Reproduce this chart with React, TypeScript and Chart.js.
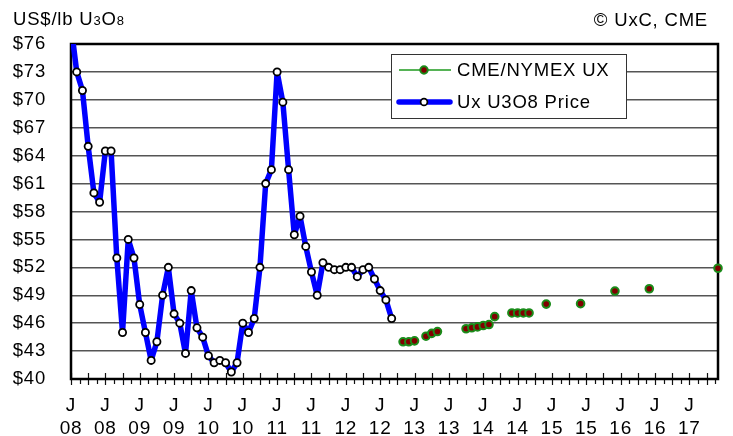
import React, { useEffect, useRef } from "react";
import { Chart, registerables } from "chart.js";

Chart.register(...registerables);

// Months counted from Jan 2008 (0 = Jan 08)
const uxMonths = [
  0, 1, 2, 3, 4, 5, 6, 7, 8, 9, 10, 11,
  12, 13, 14, 15, 16, 17, 18, 19, 20, 21, 22, 23,
  24, 25, 26, 27, 28, 29, 30, 31, 32, 33, 34, 35,
  36, 37, 38, 39, 40, 41, 42, 43, 44, 45, 46, 47,
  48, 49, 50, 51, 52, 53, 54, 55, 56,
];
const uxPrices = [
  78, 73, 71, 65, 60, 59, 64.5, 64.5, 53, 45, 55, 53,
  48, 45, 42, 44, 49, 52, 47, 46, 42.75, 49.5, 45.5, 44.5,
  42.5, 41.75, 42, 41.75, 40.75, 41.75, 46, 45, 46.5, 52, 61, 62.5,
  73, 69.75, 62.5, 55.5, 57.5, 54.25, 51.5, 49, 52.5, 52, 51.75, 51.75,
  52, 52, 51, 51.75, 52, 50.75, 49.5, 48.5, 46.5,
];

const cmeMonths = [58, 59, 60, 62, 63, 64, 69, 70, 71, 72, 73, 74, 77, 78, 79, 80, 83, 89, 95, 101, 113];
const cmePrices = [44, 44, 44.1, 44.6, 44.9, 45.1, 45.4, 45.5, 45.6, 45.75, 45.85, 46.7, 47.1, 47.1, 47.1, 47.1, 48.05, 48.1, 49.45, 49.7, 51.9];

const yearLabels = ["08", "08", "09", "09", "10", "10", "11", "11", "12", "12", "13", "13", "14", "14", "15", "15", "16", "16", "17"];
const monthLetter = "J";

const Y_MIN = 40;
const Y_MAX = 76;
const Y_STEP = 3;
const X_MAX = 113;

const FONT = '"Liberation Sans", Arial, sans-serif';
const SPACING = "0.8px";

const setSpacing = (chart: any) => {
  try { (chart.ctx as any).letterSpacing = SPACING; } catch (e) { /* ignore */ }
};

const decorPlugin = {
  id: "decor",
  beforeInit: setSpacing,
  beforeLayout: setSpacing,
  beforeDraw: setSpacing,
  beforeDatasetsDraw(chart: any) {
    const { ctx, chartArea: ca, scales } = chart;
    const xs = scales.x;
    ctx.save();
    ctx.strokeStyle = "#111";
    ctx.lineWidth = 1.2;
    for (let i = 0; i * 1.5 <= X_MAX + 1e-9; i++) {
      const m = i * 1.5;
      const px = Math.round(xs.getPixelForValue(m)) + 0.5;
      const major = i % 2 === 0;
      ctx.beginPath();
      ctx.moveTo(px, major ? ca.bottom - 6 : ca.bottom);
      ctx.lineTo(px, ca.bottom + (major ? 6 : 5));
      ctx.stroke();
    }
    ctx.lineWidth = 2.5;
    ctx.strokeStyle = "#000";
    ctx.strokeRect(ca.left, ca.top, ca.right - ca.left, ca.bottom - ca.top);
    ctx.restore();
  },
  afterDraw(chart: any) {
    const { ctx } = chart;
    ctx.save();
    try { ctx.letterSpacing = SPACING; } catch (e) { /* ignore */ }
    // Legend box
    const bx = 391, by = 54, bw = 235, bh = 64;
    ctx.fillStyle = "#fff";
    ctx.fillRect(bx, by, bw, bh);
    ctx.strokeStyle = "#333";
    ctx.lineWidth = 1;
    ctx.strokeRect(bx + 0.5, by + 0.5, bw, bh);
    // entry 1
    ctx.strokeStyle = "#1e9a1e";
    ctx.lineWidth = 1.3;
    ctx.beginPath();
    ctx.moveTo(399, 70);
    ctx.lineTo(451, 70);
    ctx.stroke();
    ctx.beginPath();
    ctx.arc(424, 70, 3.7, 0, Math.PI * 2);
    ctx.fillStyle = "#800000";
    ctx.fill();
    ctx.lineWidth = 2;
    ctx.strokeStyle = "#1a8c1a";
    ctx.stroke();
    // entry 2
    ctx.strokeStyle = "#0000ff";
    ctx.lineWidth = 5.5;
    ctx.lineCap = "round";
    ctx.beginPath();
    ctx.moveTo(399, 102);
    ctx.lineTo(450, 102);
    ctx.stroke();
    ctx.lineCap = "butt";
    ctx.beginPath();
    ctx.arc(424, 102, 3.4, 0, Math.PI * 2);
    ctx.fillStyle = "#fff";
    ctx.fill();
    ctx.lineWidth = 1.7;
    ctx.strokeStyle = "#000";
    ctx.stroke();
    ctx.fillStyle = "#000";
    ctx.font = `18.5px ${FONT}`;
    ctx.textBaseline = "middle";
    ctx.textAlign = "left";
    ctx.fillText("CME/NYMEX UX", 457, 71);
    ctx.fillText("Ux U3O8 Price", 457, 103);

    // Title top-left
    ctx.textBaseline = "alphabetic";
    const big = `18.5px ${FONT}`;
    const small = `13px ${FONT}`;
    const parts: [string, string][] = [["US$/lb U", big], ["3", small], ["O", big], ["8", small]];
    let x = 13;
    for (const [t, f] of parts) {
      ctx.font = f;
      ctx.fillText(t, x, 25);
      x += ctx.measureText(t).width;
    }
    // Source top-right
    ctx.font = big;
    ctx.textAlign = "right";
    ctx.fillText("\u00A9 UxC, CME", 708, 26);
    ctx.restore();
  },
};

export default function App() {
  const ref = useRef<HTMLCanvasElement | null>(null);
  useEffect(() => {
    if (!ref.current) return;
    const uxData = uxMonths.map((m, i) => ({ x: m, y: uxPrices[i] }));
    const cmeData = cmeMonths.map((m, i) => ({ x: m, y: cmePrices[i] }));
    const chart = new Chart(ref.current, {
      type: "line",
      data: {
        datasets: [
          {
            label: "Ux U3O8 Price",
            data: uxData,
            borderColor: "#0000ff",
            borderWidth: 5.5,
            borderJoinStyle: "round",
            pointRadius: 3.6,
            pointBorderWidth: 1.8,
            pointBackgroundColor: "#ffffff",
            pointBorderColor: "#000000",
            tension: 0,
            clip: 0,
            order: 2,
          },
          {
            label: "CME/NYMEX UX",
            data: cmeData,
            showLine: false,
            borderColor: "#1a8c1a",
            pointRadius: 3.8,
            pointBorderWidth: 2,
            pointBackgroundColor: "#800000",
            pointBorderColor: "#1a8c1a",
            clip: false,
            order: 1,
          },
        ],
      } as any,
      options: {
        responsive: false,
        animation: false,
        events: [],
        layout: { padding: { top: 44, right: 15, left: 0, bottom: 0 }, autoPadding: false } as any,
        plugins: {
          legend: { display: false },
          tooltip: { enabled: false },
          title: { display: false },
        },
        scales: {
          x: {
            type: "linear",
            min: 0,
            max: X_MAX,
            afterFit: (s: any) => { s.height = 57; },
            afterBuildTicks: (s: any) => {
              s.ticks = yearLabels.map((_, i) => ({ value: i * 6 }));
            },
            grid: { display: false, drawTicks: false },
            border: { display: false },
            ticks: {
              autoSkip: false,
              maxRotation: 0,
              padding: 15,
              color: "#000",
              font: { family: FONT, size: 19, lineHeight: 1.22 },
              callback: (v: any) => {
                const idx = Math.round(Number(v) / 6);
                return [monthLetter, yearLabels[idx] ?? ""];
              },
            },
          },
          y: {
            type: "linear",
            min: Y_MIN,
            max: Y_MAX,
            afterFit: (s: any) => { s.width = 71; },
            grid: { color: "#555555", lineWidth: 1.4, drawTicks: false },
            border: { display: false },
            ticks: {
              stepSize: Y_STEP,
              padding: 25,
              color: "#000",
              font: { family: FONT, size: 18.5 },
              callback: (v: any) => "$" + v,
            },
          },
        },
      } as any,
      plugins: [decorPlugin],
    });
    return () => chart.destroy();
  }, []);
  return (
    <div style={{ position: "fixed", left: 0, top: 0, width: 733, height: 436, background: "#fff" }}>
      <canvas ref={ref} width={733} height={436} style={{ width: 733, height: 436, display: "block" }} />
    </div>
  );
}
